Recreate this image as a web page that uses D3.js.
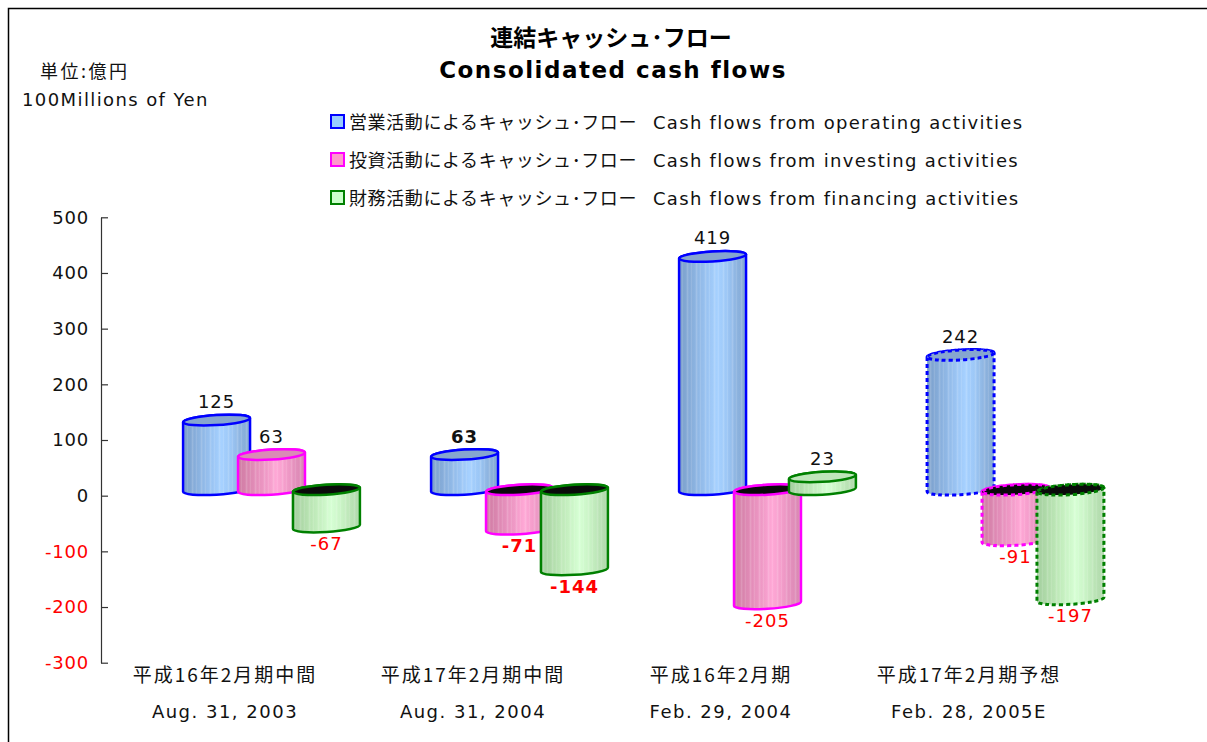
<!DOCTYPE html>
<html>
<head>
<meta charset="utf-8">
<script src="https://cdn.jsdelivr.net/npm/d3@7"></script>
<style>
  html, body { margin: 0; padding: 0; background: #fff; }
  svg { display: block; }
</style>
</head>
<body>
<svg id="chart" width="1207" height="742"></svg>
<script>
// Periods (Japanese / English)
const categoriesJa = ["平成16年2月期中間", "平成17年2月期中間", "平成16年2月期", "平成17年2月期予想"];
const categoriesEn = ["Aug. 31, 2003", "Aug. 31, 2004", "Feb. 29, 2004", "Feb. 28, 2005E"];

// Cash flows, 100 millions of yen
const operating = [125, 63, 419, 242];
const investing = [63, -71, -205, -91];
const financing = [-67, -144, 23, -197];

const seriesJa = ["営業活動によるキャッシュ･フロー", "投資活動によるキャッシュ･フロー", "財務活動によるキャッシュ･フロー"];
const seriesEn = ["Cash flows from operating activities", "Cash flows from investing activities", "Cash flows from financing activities"];

const yTicks = [-300, -200, -100, 0, 100, 200, 300, 400, 500];

const boldCategory = 1;      // labels of this period are bold
const forecastCategory = 3;  // forecast period drawn with dotted outlines

const seriesValues = [operating, investing, financing];
const seriesStyle = [
  { stroke: "#0000ff", legend: "#99ccff", cap: "#86a6cf",
    stops: ["#7b9fcb", "#84aad7", "#8fb7e5", "#9ac4f3", "#a6d1ff", "#9cc7f6", "#8db3df", "#82a8d4"] },
  { stroke: "#ff00ff", legend: "#ff99cc", cap: "#d98cb5",
    stops: ["#d07ba3", "#d985ae", "#e58fbb", "#f09ac7", "#ffa8d6", "#f39cca", "#e28fbb", "#d886b1"] },
  { stroke: "#008000", legend: "#ccffcc", cap: "#bfe6bb",
    stops: ["#a3cf9e", "#afdaa9", "#bce7b6", "#c8f2c3", "#d6ffd4", "#caf4c6", "#bbe4b6", "#afd8aa"] }
];

const sansLatin = "'DejaVu Sans', Verdana, sans-serif";
const sansJa = "'Noto Sans CJK JP', 'Noto Sans', sans-serif";

const svg = d3.select("#chart");
const defs = svg.append("defs");

// Striped vertical gradients for the cylinder bodies
seriesStyle.forEach((s, i) => {
  const g = defs.append("linearGradient")
    .attr("id", "body" + i).attr("x1", "0%").attr("x2", "100%").attr("y1", "0%").attr("y2", "0%");
  const n = s.stops.length;
  s.stops.forEach((c, k) => {
    g.append("stop").attr("offset", (k / (n - 1) * 100) + "%").attr("stop-color", c);
  });
  // faint light stripes
  const p = defs.append("pattern")
    .attr("id", "stripe" + i).attr("patternUnits", "userSpaceOnUse")
    .attr("width", 9).attr("height", 10);
  p.append("rect").attr("x", 3).attr("width", 1).attr("height", 10)
    .attr("fill", "#ffffff").attr("opacity", 0.28);
  p.append("rect").attr("x", 7).attr("width", 1).attr("height", 10)
    .attr("fill", "#ffffff").attr("opacity", 0.15);
});

// Outer frame
svg.append("rect")
  .attr("x", 8.5).attr("y", 8.5).attr("width", 1300).attr("height", 900)
  .attr("fill", "none").attr("stroke", "#000").attr("stroke-width", 1.5);

// Scales
const y = d3.scaleLinear().domain([-300, 500]).range([662.7, 217.3]);
const x0 = d3.scaleBand().domain(categoriesJa).range([101, 1093]).padding(0);
const bw = x0.bandwidth();
const x1 = d3.scalePoint().domain(d3.range(3)).range([0.331 * bw, 0.774 * bw]);
const barW = 0.27 * bw;
const depth = 6;   // upward shift of the cylinders (3D depth)
const ry = 5;
const tilt = -3.5;

// Axis
const axis = d3.axisLeft(y).tickValues(yTicks).tickFormat(d => String(d))
  .tickSizeInner(-7).tickSizeOuter(0).tickPadding(12);
const ax = svg.append("g").attr("transform", "translate(101,0)").call(axis);
ax.select(".domain").attr("stroke", "#333").attr("stroke-width", 1.2);
ax.selectAll(".tick line").attr("stroke", "#333").attr("stroke-width", 1.2);
ax.selectAll(".tick text")
  .attr("font-family", sansLatin).attr("font-size", 18).attr("letter-spacing", 0.8)
  .attr("fill", d => d < 0 ? "#ff0000" : "#111");

// Cylinders
const plot = svg.append("g");
categoriesJa.forEach((cat, ci) => {
  seriesValues.forEach((vals, si) => {
    const v = vals[ci];
    const s = seriesStyle[si];
    const L = x0(cat) + x1(si);
    const R = L + barW;
    const cx = (L + R) / 2;
    const rx = barW / 2;
    const yT = y(Math.max(v, 0)) - depth;
    const yB = y(Math.min(v, 0)) - depth;
    const dash = ci === forecastCategory ? "4,3" : null;
    const sw = ci === forecastCategory ? 3 : 2.5;

    const g = plot.append("g")
      .attr("transform", `translate(${cx},0) skewY(${tilt}) translate(${-cx},0)`);

    const body = `M${L},${yT} V${yB} A${rx},${ry} 0 0 0 ${R},${yB} V${yT} A${rx},${ry} 0 0 0 ${L},${yT} Z`;
    g.append("path").attr("d", body).attr("fill", `url(#body${si})`);
    g.append("path").attr("d", body).attr("fill", `url(#stripe${si})`);
    g.append("path").attr("d", body).attr("fill", "none")
      .attr("stroke", s.stroke).attr("stroke-width", sw).attr("stroke-dasharray", dash);

    g.append("ellipse")
      .attr("cx", cx).attr("cy", yT).attr("rx", rx).attr("ry", ry)
      .attr("fill", v >= 0 ? s.cap : "#0a0a0a")
      .attr("stroke", s.stroke).attr("stroke-width", sw).attr("stroke-dasharray", dash);

    // value label
    svg.append("text")
      .attr("x", cx)
      .attr("y", v >= 0 ? y(v) - 18 : y(v) + 17)
      .attr("text-anchor", "middle")
      .attr("font-family", sansLatin).attr("font-size", 18).attr("letter-spacing", 1)
      .attr("font-weight", ci === boldCategory ? "bold" : "normal")
      .attr("fill", v >= 0 ? "#111" : "#ff0000")
      .text(v);
  });
});

// Category labels
categoriesJa.forEach((cat, ci) => {
  const cx = x0(cat) + bw / 2;
  svg.append("text").attr("x", cx).attr("y", 682)
    .attr("text-anchor", "middle").attr("font-family", sansJa).attr("font-size", 19)
    .attr("letter-spacing", 2).attr("fill", "#111").text(cat);
  svg.append("text").attr("x", cx).attr("y", 718)
    .attr("text-anchor", "middle").attr("font-family", sansLatin).attr("font-size", 18)
    .attr("letter-spacing", 1.5).attr("fill", "#111").text(categoriesEn[ci]);
});

// Titles
svg.append("text").attr("x", 611).attr("y", 46).attr("text-anchor", "middle")
  .attr("font-family", sansJa).attr("font-weight", "bold").attr("font-size", 23)
  .attr("fill", "#000").text("連結キャッシュ･フロー");
svg.append("text").attr("x", 613).attr("y", 78).attr("text-anchor", "middle")
  .attr("font-family", sansLatin).attr("font-weight", "bold").attr("font-size", 23)
  .attr("letter-spacing", 1.5).attr("fill", "#000").text("Consolidated cash flows");

// Unit
svg.append("text").attr("x", 40).attr("y", 78)
  .attr("font-family", sansJa).attr("font-size", 18).attr("letter-spacing", 2.5)
  .attr("fill", "#111").text("単位:億円");
svg.append("text").attr("x", 22).attr("y", 106)
  .attr("font-family", sansLatin).attr("font-size", 18).attr("letter-spacing", 1.4)
  .attr("fill", "#111").text("100Millions of Yen");

// Legend
seriesJa.forEach((name, si) => {
  const cy = 122 + si * 38;
  const s = seriesStyle[si];
  svg.append("rect").attr("x", 331).attr("y", cy - 7).attr("width", 13).attr("height", 13)
    .attr("fill", s.legend).attr("stroke", s.stroke).attr("stroke-width", 2);
  svg.append("text").attr("x", 349).attr("y", cy + 7)
    .attr("font-family", sansJa).attr("font-size", 18).attr("letter-spacing", 0.6)
    .attr("fill", "#111").text(name);
  svg.append("text").attr("x", 653).attr("y", cy + 7)
    .attr("font-family", sansLatin).attr("font-size", 18).attr("letter-spacing", 1.3)
    .attr("fill", "#111").text(seriesEn[si]);
});
</script>
</body>
</html>
